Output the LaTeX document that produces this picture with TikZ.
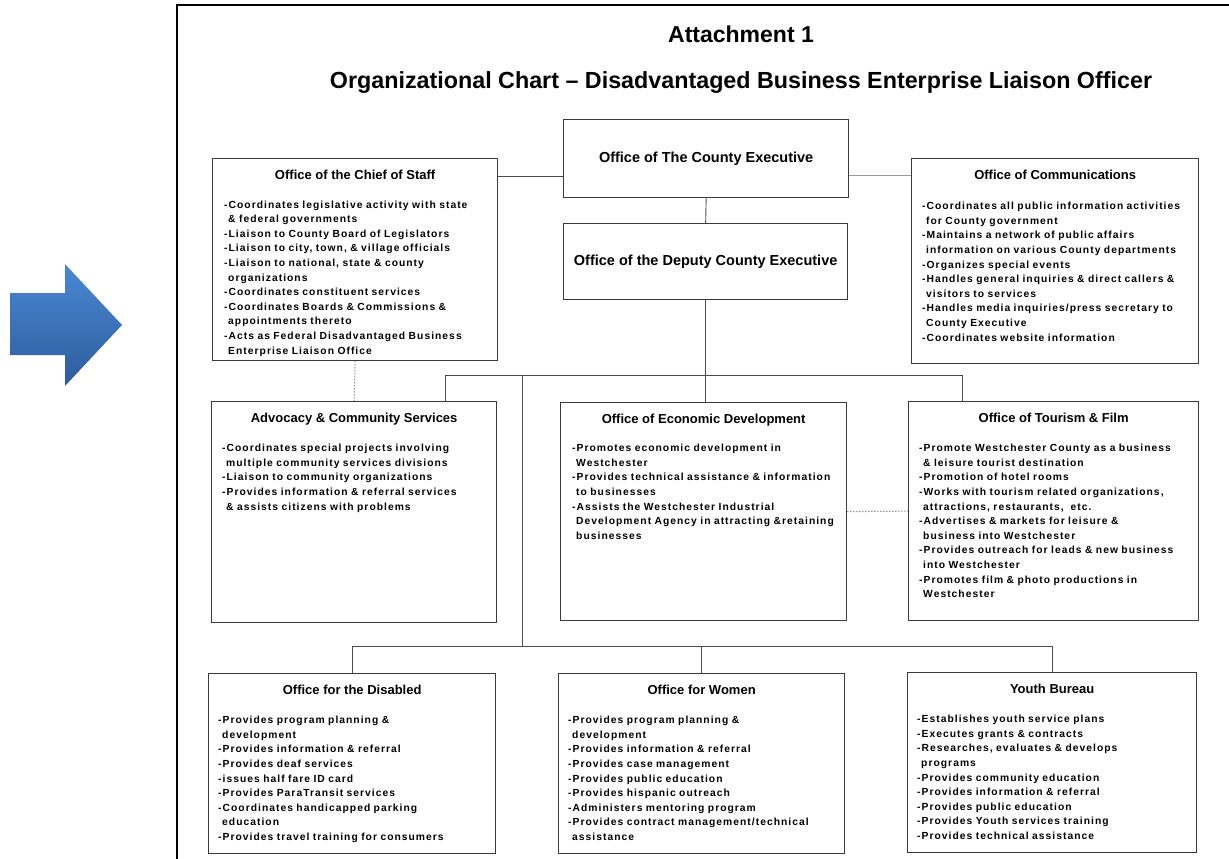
\documentclass[tikz,border=0pt]{standalone}
\usepackage{fontspec}
\setmainfont{Liberation Sans}
\newfontfamily\bodyfont[LetterSpace=10]{Liberation Sans}
\usetikzlibrary{positioning}

\definecolor{boxline}{HTML}{3A3A3A}
\definecolor{arrowtop}{HTML}{4A88D4}
\definecolor{arrowbot}{HTML}{2C5C9C}
\newcommand{\ind}{\hspace*{4pt}}

\tikzset{
  office/.style={draw=boxline, line width=1.3pt, anchor=north west, inner sep=0pt},
  head/.style={font=\bfseries\fontsize{13}{15}\selectfont, inner sep=0pt},
  toptitle/.style={font=\bfseries\fontsize{14.5}{17}\selectfont},
  body/.style={font=\bodyfont\bfseries\fontsize{10.3}{14.6}\selectfont, align=left, text width=280pt, inner sep=0pt},
  link/.style={draw=black!70, line width=0.9pt},
  faint/.style={draw=black!40, line width=0.8pt},
  dots/.style={draw=black!65, line width=1pt, dotted}
}

\begin{document}
\begin{tikzpicture}[x=1pt,y=-1pt]
    \useasboundingbox (0,0) rectangle (1229,859);
    \shade[top color=arrowtop, bottom color=arrowbot] (10,293) -- (65,293) -- (65,264) -- (122,325) -- (65,386) -- (65,355) -- (10,355) -- cycle;
    \draw[line width=2pt] (177,5) rectangle (1240,870);

    \node[font=\bfseries\fontsize{23}{27}\selectfont] (attach) at (741,34) {Attachment 1};
    \node[font=\bfseries\fontsize{23.3}{27}\selectfont] (title) at (741,83) {Organizational Chart -- Disadvantaged Business Enterprise Liaison Officer};

    \node[office, toptitle, minimum width=285pt, minimum height=78pt] (exec) at (563,119) {Office of The County Executive};
    \node[office, toptitle, minimum width=284pt, minimum height=76pt] (deputy) at (563,223) {Office of the Deputy County Executive};

    \node[office, minimum width=285pt, minimum height=202pt] (chief) at (212,158) {};
    \node[head, below=11.5pt of chief.north] (chief-h) {Office of the Chief of Staff};
    \node[body, below right=42.5pt and 12pt of chief.north west] (chief-b) {-Coordinates legislative activity with state\\\ind\& federal governments\\-Liaison to County Board of Legislators\\-Liaison to city, town, \& village officials\\-Liaison to national, state \& county\\\ind organizations\\-Coordinates constituent services\\-Coordinates Boards \& Commissions \&\\\ind appointments thereto\\-Acts as Federal Disadvantaged Business\\\ind Enterprise Liaison Office};

    \node[office, minimum width=287pt, minimum height=205pt] (comm) at (911,158) {};
    \node[head, below=11.5pt of comm.north] (comm-h) {Office of Communications};
    \node[body, below right=44pt and 11pt of comm.north west] (comm-b) {-Coordinates all public information activities\\\ind for County government\\-Maintains a network of public affairs\\\ind information on various County departments\\-Organizes special events\\-Handles general inquiries \& direct callers \&\\\ind visitors to services\\-Handles media inquiries/press secretary to\\\ind County Executive\\-Coordinates website information};

    \node[office, minimum width=285pt, minimum height=221pt] (advo) at (211,401) {};
    \node[head, below=11.5pt of advo.north] (advo-h) {Advocacy \& Community Services};
    \node[body, below right=43pt and 11pt of advo.north west] (advo-b) {-Coordinates special projects involving\\\ind multiple community services divisions\\-Liaison to community organizations\\-Provides information \& referral services\\\ind\& assists citizens with problems};

    \node[office, minimum width=286pt, minimum height=218pt] (econ) at (560,402) {};
    \node[head, below=11.5pt of econ.north] (econ-h) {Office of Economic Development};
    \node[body, below right=42pt and 12pt of econ.north west] (econ-b) {-Promotes economic development in\\\ind Westchester\\-Provides technical assistance \& information\\\ind to businesses\\-Assists the Westchester Industrial\\\ind Development Agency in attracting \&retaining\\\ind businesses};

    \node[office, minimum width=290pt, minimum height=219pt] (tour) at (908,401) {};
    \node[head, below=11.5pt of tour.north] (tour-h) {Office of Tourism \& Film};
    \node[body, below right=43pt and 11pt of tour.north west] (tour-b) {-Promote Westchester County as a business\\\ind\& leisure tourist destination\\-Promotion of hotel rooms\\-Works with tourism related organizations,\\\ind attractions, restaurants,~ etc.\\-Advertises \& markets for leisure \&\\\ind business into Westchester\\-Provides outreach for leads \& new business\\\ind into Westchester\\-Promotes film \& photo productions in\\\ind Westchester};

    \node[office, minimum width=287pt, minimum height=180pt] (dis) at (208,673) {};
    \node[head, below=11.5pt of dis.north] (dis-h) {Office for the Disabled};
    \node[body, below right=43pt and 10pt of dis.north west] (dis-b) {-Provides program planning \&\\\ind development\\-Provides information \& referral\\-Provides deaf services\\-issues half fare ID card\\-Provides ParaTransit services\\-Coordinates handicapped parking\\\ind education\\-Provides travel training for consumers};

    \node[office, minimum width=286pt, minimum height=180pt] (wom) at (558,673) {};
    \node[head, below=11.5pt of wom.north] (wom-h) {Office for Women};
    \node[body, below right=43pt and 10pt of wom.north west] (wom-b) {-Provides program planning \&\\\ind development\\-Provides information \& referral\\-Provides case management\\-Provides public education\\-Provides hispanic outreach\\-Administers mentoring program\\-Provides contract management/technical\\\ind assistance};

    \node[office, minimum width=289pt, minimum height=180pt] (youth) at (907,672) {};
    \node[head, below=11.5pt of youth.north] (youth-h) {Youth Bureau};
    \node[body, below right=43pt and 10pt of youth.north west] (youth-b) {-Establishes youth service plans\\-Executes grants \& contracts\\-Researches, evaluates \& develops\\\ind programs\\-Provides community education\\-Provides information \& referral\\-Provides public education\\-Provides Youth services training\\-Provides technical assistance};

    \coordinate (busL) at (445,375);
    \coordinate (busR) at (962,375);
    \coordinate (trunk) at (522,375);
    \coordinate (low) at (522,646);

    \draw[link] ([yshift=-18pt]exec.west) -- ([yshift=-18pt]exec.west -| chief.east);
    \draw[faint] ([yshift=-17pt]exec.east) -- ([yshift=-17pt]exec.east -| comm.west);
    \draw[link] (exec.south) -- (deputy.north);
    \draw[link] (deputy.south) -- (deputy.south |- econ.north);
    \draw[link] (advo.north -| busL) -- (busL) -- (busR) -- (busR |- tour.north);
    \draw[link] (trunk) -- (low);
    \draw[link] (dis.north) -- (dis.north |- low) -- (youth.north |- low) -- (youth.north);
    \draw[link] (wom.north |- low) -- (wom.north);
    \draw[dots] (chief.south) -- (advo.north);
    \draw[dots] (econ.east) -- (tour.west);
\end{tikzpicture}
\end{document}
